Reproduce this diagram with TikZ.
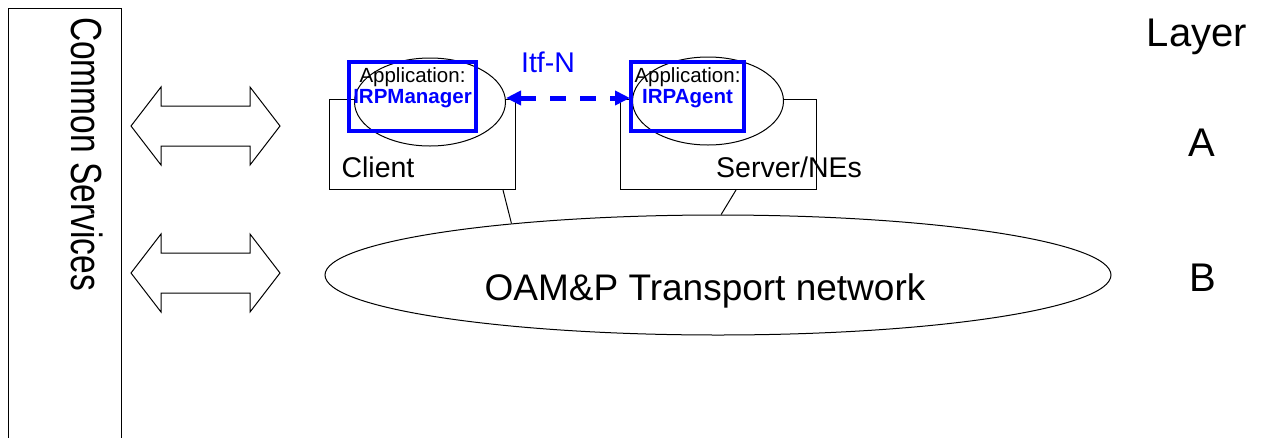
\documentclass[tikz,border=0pt]{standalone}
\usepackage{fontspec}
\setmainfont{Liberation Sans}
\usetikzlibrary{shapes.geometric,arrows.meta}
\definecolor{itfblue}{RGB}{0,0,255}
\newcommand{\pxfont}[1]{\fontsize{#1}{#1}\selectfont}

\tikzset{
  box/.style={draw, line width=1pt, inner sep=0pt, anchor=north west},
  appell/.style={draw, ellipse, fill=white, line width=1pt, inner sep=0pt,
    minimum width=151pt, minimum height=88pt},
  appbox/.style={draw=itfblue, line width=3.5pt, inner sep=0pt,
    minimum width=127pt, minimum height=69pt},
  apptext/.style={align=center, inner sep=0pt, font=\fontsize{20.5}{21}\selectfont},
  itf/.style={draw=itfblue, line width=5pt, dash pattern=on 16pt off 14pt,
    {Triangle[length=15pt,width=14pt]}-{Triangle[length=15pt,width=14pt]}},
  lbl/.style={inner sep=0pt, font=\pxfont{28.5}}
}

\begin{document}
\begin{tikzpicture}[x=1pt, y=-1pt, line width=1pt]
  \useasboundingbox (0,0) rectangle (1263,437);
  % common services column
  \node[box, minimum width=113pt, minimum height=445pt] (services) at (8,8) {};
  \node[rotate=-90, inner sep=0pt, font=\pxfont{33.5}] (servicestext) at (87.5,154) {\scalebox{1}[1.3]{Common Services}};
  \foreach \yc in {126,273}
    \draw (131,\yc) -- (161,\yc-39) -- (161,\yc-20) -- (250,\yc-20) -- (250,\yc-39) -- (280,\yc)
      -- (250,\yc+39) -- (250,\yc+20) -- (161,\yc+20) -- (161,\yc+39) -- cycle;
  % layer A
  \node[box, minimum width=186pt, minimum height=90pt] (client) at (329,99) {};
  \node[box, minimum width=196pt, minimum height=90pt] (server) at (620,99) {};
  \node[appell] (mgrell) at (430,102) {};
  \node[appell] (agtell) at (708,101) {};
  \node[appbox] (mgrbox) at (412.5,96.5) {};
  \node[appbox, minimum width=113pt] (agtbox) at (687.5,96.5) {};
  \node[apptext] (mgrtext) at (412.5,88) {Application:\\\textcolor{itfblue}{\bfseries IRPManager}};
  \node[apptext] (agttext) at (687.5,88) {Application:\\\textcolor{itfblue}{\bfseries IRPAgent}};
  \draw[itf] ([yshift=4pt]mgrell.east) -- ([xshift=-2pt,yshift=3pt]agtell.west);
  \node[lbl, text=itfblue] (itfn) at (548,62) {Itf-N};
  \node[lbl] (clienttext) at (378,167) {Client};
  \node[lbl] (servertext) at (789,167) {Server/NEs};
  % layer B
  \node[draw, ellipse, inner sep=0pt, minimum width=786pt, minimum height=120pt] (transport) at (718,275) {};
  \node[anchor=base, inner sep=0pt, font=\pxfont{37}] (transporttext) at (705,300) {OAM\&P Transport network};
  \draw ([xshift=-13pt]client.south east) -- (transport.166);
  \draw ([xshift=-81pt]server.south east) -- (transport.87);
  % layer labels
  \node[anchor=base, inner sep=0pt, font=\pxfont{40}] (layer) at (1197,46) {Layer};
  \node[anchor=base, inner sep=0pt, font=\pxfont{40}] (layera) at (1202,156) {A};
  \node[anchor=base, inner sep=0pt, font=\pxfont{40}] (layerb) at (1203,291) {B};
\end{tikzpicture}
\end{document}
